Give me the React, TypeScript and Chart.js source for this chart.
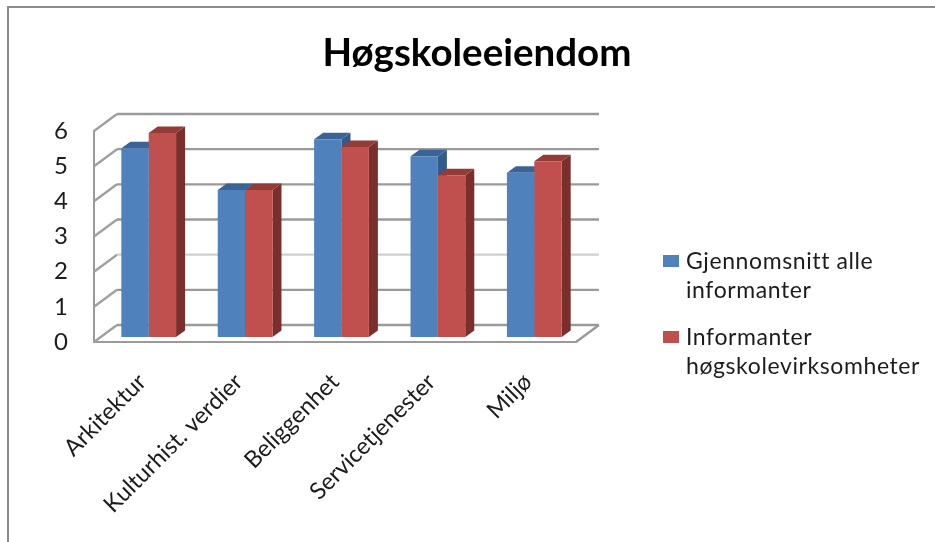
import React, { useEffect, useRef } from "react";
import { Chart, layouts, registerables } from "chart.js";

Chart.register(...registerables);

const titleText = "Høgskoleeiendom";
const categories = ["Arkitektur", "Kulturhist. verdier", "Beliggenhet", "Servicetjenester", "Miljø"];
const seriesNames = ["Gjennomsnitt alle informanter", "Informanter høgskolevirksomheter"];
const averageAll = [5.37, 4.18, 5.62, 5.14, 4.67];
const collegeInformants = [5.8, 4.18, 5.4, 4.6, 5.0];
const frontColors = ["#4F81BD", "#C0504D"];
const topColors = ["#3A6496", "#943A37"];
const sideColors = ["#345A88", "#7A2F2D"];

const FONT = "Lato, 'Open Sans', sans-serif";
const TEXT = "#1c1c1c";
const LEGEND_WIDTH = 378;
// Extrusion of the back wall and of the bars, in pixels.
const WALL_DX = 23;
const WALL_DY = -17;
const BAR_DX = 9;
const BAR_DY = -6.5;
const BAR_SHIFT_X = 6.5;
const BAR_SHIFT_Y = -5;

const wallPlugin = {
  id: "wall3d",
  beforeDatasetsDraw(chart: any) {
    const { ctx, chartArea: a, scales } = chart;
    ctx.save();
    ctx.lineWidth = 2.4;
    for (const t of scales.y.ticks) {
      const y = scales.y.getPixelForValue(t.value);
      ctx.strokeStyle = "#a0a0a0";
      ctx.beginPath();
      ctx.moveTo(a.left, y);
      ctx.lineTo(a.left + WALL_DX, y + WALL_DY);
      ctx.stroke();
      ctx.strokeStyle = t.value === 2 ? "#cfcfcf" : "#9a9a9a";
      ctx.beginPath();
      ctx.moveTo(a.left + WALL_DX, y + WALL_DY);
      ctx.lineTo(a.right + WALL_DX, y + WALL_DY);
      ctx.stroke();
    }
    ctx.strokeStyle = "#9a9a9a";
    ctx.beginPath();
    ctx.moveTo(a.right, a.bottom);
    ctx.lineTo(a.right + WALL_DX, a.bottom + WALL_DY);
    ctx.stroke();
    ctx.restore();

    // Bars stand in the middle of the floor, so everything from here on is shifted inward.
    ctx.save();
    ctx.translate(BAR_SHIFT_X, BAR_SHIFT_Y);
    chart.data.datasets.forEach((_: any, di: number) => {
      for (const bar of chart.getDatasetMeta(di).data) {
        const { x, y, base, width } = bar.getProps(["x", "y", "base", "width"], true);
        const l = x - width / 2;
        const r = x + width / 2;
        ctx.fillStyle = sideColors[di];
        ctx.beginPath();
        ctx.moveTo(r, y);
        ctx.lineTo(r + BAR_DX, y + BAR_DY);
        ctx.lineTo(r + BAR_DX, base + BAR_DY);
        ctx.lineTo(r, base);
        ctx.closePath();
        ctx.fill();
        ctx.fillStyle = topColors[di];
        ctx.beginPath();
        ctx.moveTo(l, y);
        ctx.lineTo(l + BAR_DX, y + BAR_DY);
        ctx.lineTo(r + BAR_DX, y + BAR_DY);
        ctx.lineTo(r, y);
        ctx.closePath();
        ctx.fill();
      }
    });
  },
  afterDatasetsDraw(chart: any) {
    chart.ctx.restore();
  },
};

const wrapText = (ctx: any, text: string, maxWidth: number) => {
  const lines: string[] = [];
  let line = "";
  for (const word of text.split(" ")) {
    const next = line ? line + " " + word : word;
    if (line && ctx.measureText(next).width > maxWidth) {
      lines.push(line);
      line = word;
    } else {
      line = next;
    }
  }
  lines.push(line);
  return lines;
};

// Reserves the right-hand column as a layout box, so the title stays centred on the whole chart.
const legendPlugin = {
  id: "wrappedLegend",
  install(chart: any) {
    layouts.addBox(chart, {
      position: "right",
      weight: 100,
      fullSize: false,
      options: {},
      isHorizontal: () => false,
      update(this: any, _w: number, h: number) {
        this.width = LEGEND_WIDTH;
        this.height = h;
      },
      draw() {},
    });
  },
  afterDraw(chart: any) {
    const { ctx } = chart;
    const rows = [269, 345];
    ctx.save();
    ctx.font = `23px ${FONT}`;
    ctx.letterSpacing = "0.6px";
    ctx.textBaseline = "alphabetic";
    ctx.textAlign = "left";
    chart.data.datasets.forEach((ds: any, i: number) => {
      ctx.fillStyle = frontColors[i];
      ctx.fillRect(663, rows[i] - 14, 16, 12);
      ctx.fillStyle = TEXT;
      wrapText(ctx, ds.label, 250).forEach((line, n) => {
        ctx.fillText(line, 686, rows[i] + n * 29);
      });
    });
    ctx.restore();
  },
};

export default function App() {
  const canvasRef = useRef<HTMLCanvasElement>(null);

  useEffect(() => {
    const chart = new Chart(canvasRef.current!, {
      type: "bar",
      data: {
        labels: categories,
        datasets: [
          { label: seriesNames[0], data: averageAll, backgroundColor: frontColors[0] },
          { label: seriesNames[1], data: collegeInformants, backgroundColor: frontColors[1] },
        ],
      },
      plugins: [wallPlugin, legendPlugin],
      options: {
        responsive: false,
        animation: false,
        devicePixelRatio: 1,
        layout: { padding: 0 },
        datasets: { bar: { categoryPercentage: 0.568, barPercentage: 1, clip: false } },
        plugins: {
          legend: { display: false },
          tooltip: { enabled: false },
          title: {
            display: true,
            text: titleText,
            color: "#000000",
            font: { family: FONT, size: 38.5, weight: "bold", lineHeight: 1.2 },
            padding: { top: 30, bottom: 54.8 },
          },
        },
        scales: {
          x: {
            grid: { display: false, drawTicks: false },
            border: { display: true, color: "#9a9a9a", width: 2 },
            afterFit: (s: any) => { s.height = 200; },
            ticks: {
              color: TEXT,
              font: { family: FONT, size: 23.5 },
              minRotation: 45,
              maxRotation: 45,
              autoSkip: false,
              padding: 26,
            },
          },
          y: {
            min: 0,
            max: 6,
            grid: { display: false, drawTicks: false },
            border: { display: true, color: "#9a9a9a", width: 2 },
            afterFit: (s: any) => { s.width = 94; },
            ticks: {
              stepSize: 1,
              color: TEXT,
              font: { family: FONT, size: 24 },
              padding: 26,
            },
          },
        },
      },
    });
    return () => chart.destroy();
  }, []);

  return (
    <div style={{ position: "fixed", inset: 0, overflow: "hidden", background: "#fff" }}>
      <div
        style={{
          position: "absolute",
          left: 7,
          top: 6,
          width: 2000,
          height: 2000,
          borderLeft: "2px solid #8c8c8c",
          borderTop: "2px solid #8c8c8c",
        }}
      />
      <canvas
        ref={canvasRef}
        width={954}
        height={542}
        style={{ position: "absolute", left: 0, top: 0, width: 954, height: 542 }}
      />
    </div>
  );
}
